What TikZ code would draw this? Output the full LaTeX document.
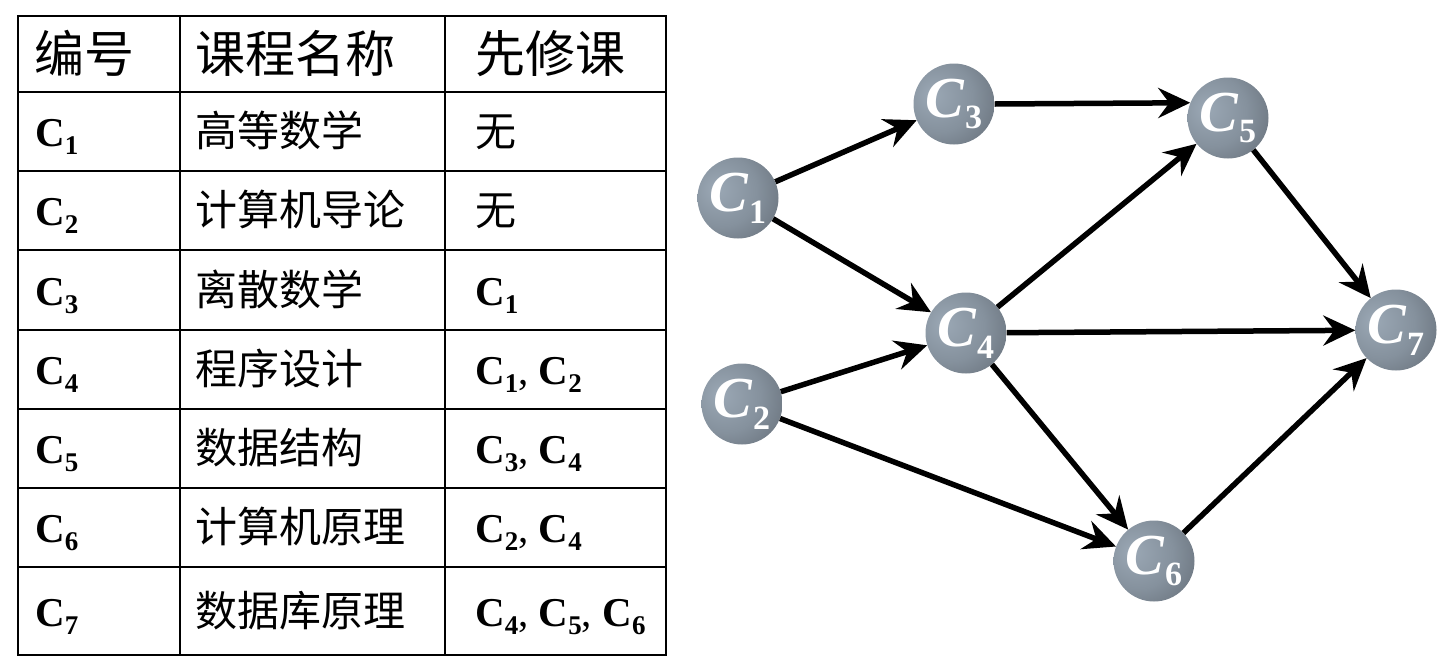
\documentclass[tikz,border=0pt]{standalone}
\usepackage{fontspec}
\setmainfont{Liberation Serif}
\newfontfamily\cjk{Noto Sans CJK SC}
\usetikzlibrary{arrows.meta}

\definecolor{ballhi}{HTML}{9BA8B5}
\definecolor{ballmid}{HTML}{85919D}
\definecolor{balllo}{HTML}{4A5058}
\pgfdeclareradialshading{courseball}{\pgfpoint{-14bp}{6bp}}{color(0bp)=(ballhi); color(22bp)=(ballmid); color(48bp)=(balllo!70!ballmid); color(64bp)=(balllo); color(80bp)=(balllo)}

\newcommand{\tabC}[1]{\textbf{C\raisebox{-0.2em}{\fontsize{27}{27}\selectfont\bfseries #1}}}
\newcommand{\ballC}[1]{\textbf{\textit{C}}\raisebox{-0.2em}{\fontsize{34}{34}\selectfont\bfseries #1}}

\begin{document}
\begin{tikzpicture}[x=1pt,y=-1pt,
  course/.style={circle,minimum size=81pt,inner sep=0pt,shading=courseball,
    text=white,font=\fontsize{58}{58}\selectfont},
  prereq/.style={-{Stealth[length=32pt,width=30pt,inset=11pt]},line width=5.5pt},
  cell/.style={anchor=base west,inner sep=0pt,font=\fontsize{41}{41}\selectfont},
  head/.style={anchor=base west,inner sep=0pt,font=\cjk\fontsize{50}{50}\selectfont}]
\useasboundingbox (0,0) rectangle (1452,670);
% table
\foreach \y in {16,92,171,250,330,409,488,567,655}
\draw[line width=2pt] (17,\y) -- (667,\y);
\foreach \x in {18,180,445,666}
\draw[line width=2pt] (\x,16) -- (\x,655);
\node[head] (hnum) at (34,72) {编号};
\node[head] (htitle) at (195,72) {课程名称};
\node[head] (hpre) at (475,72) {先修课};
\foreach \y/\n/\title/\pre in {146.5/1/高等数学/{{\cjk 无}},
  225.5/2/计算机导论/{{\cjk 无}},
  305/3/离散数学/{\tabC{1}},
  384.5/4/程序设计/{\tabC{1}, \tabC{2}},
  463.5/5/数据结构/{\tabC{3}, \tabC{4}},
  542.5/6/计算机原理/{\tabC{2}, \tabC{4}},
  626/7/数据库原理/{\tabC{4}, \tabC{5}, \tabC{6}}}
{
\node[cell] (num\n) at (35,\y) {\tabC{\n}};
\node[cell,font=\cjk\fontsize{42}{42}\selectfont] (title\n) at (195,\y) {\title};
\node[cell] (pre\n) at (475,\y) {\pre};
}
% graph
\node[course] (c1) at (738,198) {\ballC{1}};
\node[course] (c2) at (742,404) {\ballC{2}};
\node[course] (c3) at (954,104) {\ballC{3}};
\node[course] (c4) at (966,333) {\ballC{4}};
\node[course] (c5) at (1228,118) {\ballC{5}};
\node[course] (c6) at (1154,561) {\ballC{6}};
\node[course] (c7) at (1396,330) {\ballC{7}};
\draw[prereq] (c1) -- (c3);
\draw[prereq] (c1) -- (c4);
\draw[prereq] (c2) -- (c4);
\draw[prereq] (c2) -- (c6);
\draw[prereq] (c3.east) -- (c5.158);
\draw[prereq] (c4) -- (c5);
\draw[prereq] (c4) -- (c7);
\draw[prereq] (c4) -- (c6);
\draw[prereq] (c5) -- (c7);
\draw[prereq] (c6) -- (c7);
\end{tikzpicture}
\end{document}
